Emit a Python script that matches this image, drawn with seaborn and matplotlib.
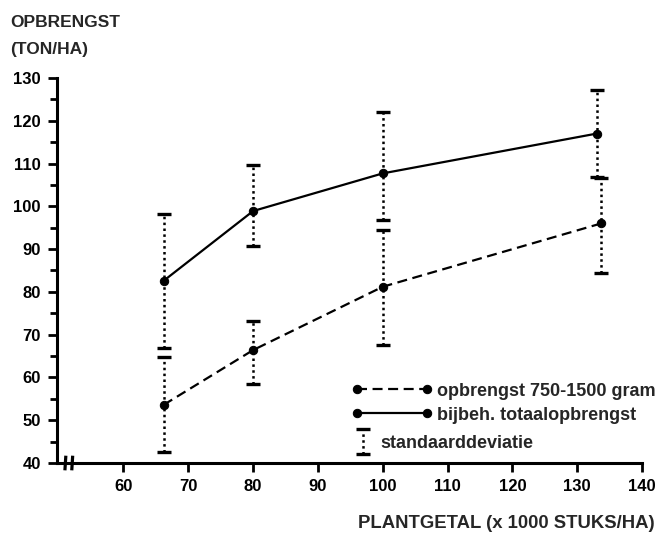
import numpy as np
import pandas as pd
import matplotlib
matplotlib.use("Agg")
import matplotlib.pyplot as plt
import seaborn as sns
from matplotlib.legend_handler import HandlerErrorbar

# ---------------- data ----------------
plant_total = [66.2, 80.0, 100.0, 133.0]
total_yield = [82.6, 98.9, 107.7, 117.0]
total_lo = [67.0, 90.7, 96.8, 106.9]
total_hi = [98.2, 109.6, 122.1, 127.1]

plant_grade = [66.2, 80.0, 100.0, 133.7]
grade_yield = [53.6, 66.4, 81.2, 96.0]
grade_lo = [42.6, 58.5, 67.5, 84.5]
grade_hi = [64.7, 73.2, 94.4, 106.6]

x_ticks = [60, 70, 80, 90, 100, 110, 120, 130, 140]
y_ticks = [40, 50, 60, 70, 80, 90, 100, 110, 120, 130]
y_minor = [45, 55, 65, 75, 85, 95, 105, 115, 125]

label_grade = "opbrengst 750-1500 gram"
label_total = "bijbeh. totaalopbrengst"
label_sd = "standaarddeviatie"
y_title_1 = "OPBRENGST"
y_title_2 = "(TON/HA)"
x_title = "PLANTGETAL (x 1000 STUKS/HA)"

# ---------------- style ----------------
sns.set_style("ticks")
plt.rcParams["font.family"] = ["Liberation Sans", "DejaVu Sans"]
plt.rcParams["font.weight"] = "bold"

fig = plt.figure(figsize=(6.61, 5.33), dpi=100)
ax = fig.add_axes([0.0858, 0.1313, 0.8855, 0.7224])

df_total = pd.DataFrame({"x": plant_total, "y": total_yield})
df_grade = pd.DataFrame({"x": plant_grade, "y": grade_yield})

sns.lineplot(data=df_grade, x="x", y="y", ax=ax, color="black", marker="o",
             markersize=6, mec="black", mfc="black", linewidth=1.6,
             linestyle=(0, (4.5, 2.5)), legend=False, label=label_grade)
sns.lineplot(data=df_total, x="x", y="y", ax=ax, color="black", marker="o",
             markersize=6, mec="black", mfc="black", linewidth=1.6,
             legend=False, label=label_total)
line_grade, line_total = ax.lines[0], ax.lines[1]


def draw_err(xs, ys, lo, hi, label=None):
    ys = np.asarray(ys)
    yerr = np.vstack([ys - np.asarray(lo), np.asarray(hi) - ys])
    eb = ax.errorbar(xs, ys, yerr=yerr, fmt="none", ecolor="black",
                     elinewidth=1.8, capsize=5, capthick=2.4, label=label)
    for coll in eb[2]:
        coll.set_linestyle((0, (1.0, 1.35)))
        coll.set_capstyle("butt")
    return eb


eb_total = draw_err(plant_total, total_yield, total_lo, total_hi, label=label_sd)
draw_err(plant_grade, grade_yield, grade_lo, grade_hi)

ax.set_xlim(49.7, 140)
ax.set_ylim(40, 130)
ax.set_xticks(x_ticks)
ax.set_yticks(y_ticks)
ax.set_yticks(y_minor, minor=True)
ax.set_xticklabels([str(v) for v in x_ticks])
ax.set_yticklabels([str(v) for v in y_ticks])
ax.tick_params(axis="both", which="major", labelsize=12, width=2, length=6.5,
               color="black", labelcolor="black", pad=5)
ax.tick_params(axis="y", which="minor", width=2, length=5, color="black")
for lab in ax.get_xticklabels() + ax.get_yticklabels():
    lab.set_fontweight("bold")
ax.set_xlabel("")
ax.set_ylabel("")
for s in ["top", "right"]:
    ax.spines[s].set_visible(False)
for s in ["left", "bottom"]:
    ax.spines[s].set_linewidth(2.2)
    ax.spines[s].set_color("black")
ax.xaxis.set_ticks_position("bottom")
ax.yaxis.set_ticks_position("left")

# axis break marks
for xf in (0.0148, 0.0265):
    ax.plot([xf - 0.0008, xf + 0.0008], [-0.019, 0.019], transform=ax.transAxes,
            color="black", lw=2.3, clip_on=False, solid_capstyle="butt")

# titles
fig.text(10 / 661, 1 - 27 / 533, y_title_1, fontsize=12.5, fontweight="bold",
         ha="left", va="baseline")
fig.text(10 / 661, 1 - 54 / 533, y_title_2, fontsize=12.5, fontweight="bold",
         ha="left", va="baseline")
fig.text(655 / 661, 1 - 528 / 533, x_title, fontsize=13.3, fontweight="bold",
         ha="right", va="baseline")

# legends
leg1 = ax.legend(handles=[line_grade, line_total], labels=[label_grade, label_total],
                 loc="upper left", bbox_to_anchor=(351.5 / 661, 1 - 382.5 / 533),
                 bbox_transform=fig.transFigure, frameon=False, numpoints=2,
                 handlelength=4.47, handletextpad=0.24, labelspacing=0.4,
                 borderpad=0, borderaxespad=0,
                 prop={"size": 13, "weight": "bold"})
ax.add_artist(leg1)
leg2 = ax.legend(handles=[eb_total], labels=[label_sd],
                 loc="upper left", bbox_to_anchor=(352 / 661, 1 - 434.5 / 533),
                 bbox_transform=fig.transFigure, frameon=False,
                 handler_map={type(eb_total): HandlerErrorbar(numpoints=1, xerr_size=0.5, yerr_size=0.69)},
                 handlelength=1.2, handletextpad=0.35, borderpad=0, borderaxespad=0,
                 prop={"size": 13, "weight": "bold"})

fig.savefig("out.png", dpi=100, facecolor="white")
